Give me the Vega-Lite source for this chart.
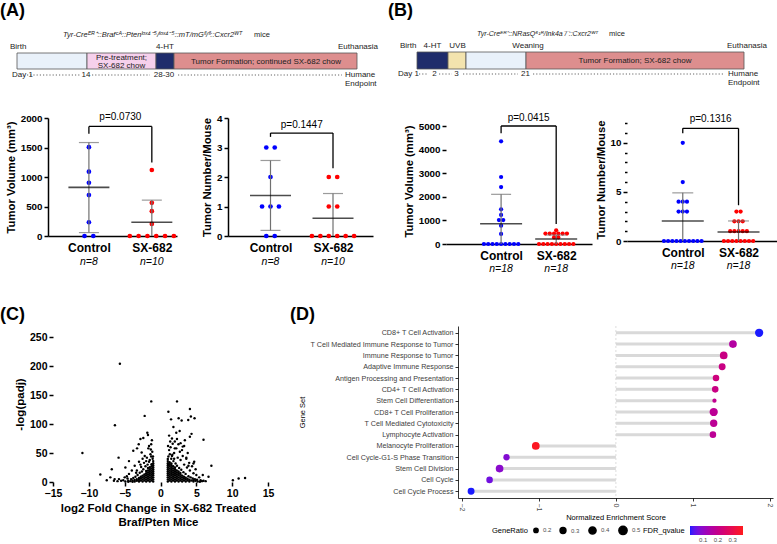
{
"$schema":"https://vega.github.io/schema/vega-lite/v6.json",
"padding":0,
"autosize":{"type":"pad"},
"background":"white",
"config":{
 "font":"Liberation Sans",
 "view":{"stroke":null},
 "scale":{"nice":false},
 "axis":{"grid":false,"domainColor":"#000","tickColor":"#000","labelColor":"#000","titleColor":"#000","labelFontWeight":"bold","titleFontWeight":"bold","domainWidth":1.5,"tickWidth":1.5,"labelFlush":false,"labelOverlap":false},
 "axisX":{"ticks":false,"labelFontSize":12,"labelPadding":6},
 "axisY":{"tickSize":4,"labelFontSize":9.8,"titleFontSize":11.3,"titlePadding":4},
 "title":{"anchor":"start","frame":"group","fontSize":18,"fontWeight":"bold","color":"#000"}
},
"bounds":"full",
"spacing":0,
"resolve":{"scale":{"color":"independent","size":"independent"}},
"vconcat":[
{"bounds":"flush","columns":4,"spacing":0,"align":"each",
 "resolve":{"scale":{"color":"independent","size":"independent"}},
 "concat":[
 {"width":180,"height":118,
  "encoding":{"x":{"field":"x","type":"quantitative","scale":{"domain":[48,228],"nice":false},"axis":null},"y":{"field":"y","type":"quantitative","scale":{"domain":[0,118],"reverse":true,"nice":false},"axis":null}},
  "layer":[
   {"data":{"values":[{"phase":"Birth to day 14","x":17,"x2":87,"y":53,"y2":69},{"phase":"Pre-treatment","x":87,"x2":156,"y":53,"y2":69},{"phase":"4-HT","x":156,"x2":174,"y":53,"y2":69},{"phase":"Tumor formation","x":174,"x2":357,"y":53,"y2":69}]},
    "mark":{"type":"rect","stroke":"#555","strokeWidth":0.8},
    "encoding":{"x2":{"field":"x2"},"y2":{"field":"y2"},"color":{"field":"phase","type":"nominal","scale":{"domain":["Birth to day 14","Pre-treatment","4-HT","Tumor formation"],"range":["#e9f1fa","#f6d0ec","#1f2c6b","#dd8e8e"]},"legend":null}}},
   {"data":{"values":[{"x":27,"x2":80,"y":75},{"x":92,"x2":150,"y":75},{"x":178,"x2":342,"y":75}]},
    "mark":{"type":"rule","strokeDash":[1.2,2],"color":"#555","strokeWidth":0.9},
    "encoding":{"x2":{"field":"x2"}}},
   {"data":{"values":[{"t":"Birth","x":10,"y":47},{"t":"Day 1","x":12,"y":75},{"t":"Humane","x":345,"y":75},{"t":"Endpoint","x":345,"y":84}]},
    "mark":{"type":"text","align":"left","fontSize":8,"color":"#222"},"encoding":{"text":{"field":"t"}}},
   {"data":{"values":[{"t":"4-HT","x":165,"y":47},{"t":"14","x":86,"y":75},{"t":"28-30","x":164,"y":75},{"t":"Pre-treatment;","x":121.5,"y":57.5},{"t":"SX-682 chow","x":121.5,"y":65.5},{"t":"Tumor Formation; continued SX-682 chow","x":266,"y":61.5}]},
    "mark":{"type":"text","align":"center","fontSize":8,"color":"#222"},"encoding":{"text":{"field":"t"}}},
   {"data":{"values":[{"t":"Euthanasia","x":378,"y":47}]},
    "mark":{"type":"text","align":"right","fontSize":8,"color":"#222"},"encoding":{"text":{"field":"t"}}},
   {"data":{"values":[{"t":"Tyr-Creᴱᴿ⁺::Brafᶜᴬ::Ptenˡᵒˣ⁴⁻⁵/ˡᵒˣ⁴⁻⁵::mT/mGᶠˡ/ᶠˡ::Cxcr2ᵂᵀ","x":63,"y":35}]},
    "mark":{"type":"text","align":"left","fontSize":7.5,"fontStyle":"italic","color":"#222"},"encoding":{"text":{"field":"t"}}},
   {"data":{"values":[{"t":"mice","x":254,"y":35}]},
    "mark":{"type":"text","align":"left","fontSize":7.5,"color":"#222"},"encoding":{"text":{"field":"t"}}},
   {"data":{"values":[{"t":"(A)","x":0,"y":10.5}]},
    "mark":{"type":"text","align":"left","fontSize":18,"fontWeight":"bold","color":"#000"},"encoding":{"text":{"field":"t"}}}
  ]},
 {"width":218,"height":1,"data":{"values":[]},"mark":"point"},
 {"width":181,"height":118,
  "encoding":{"x":{"field":"x","type":"quantitative","scale":{"domain":[446,627],"nice":false},"axis":null},"y":{"field":"y","type":"quantitative","scale":{"domain":[0,118],"reverse":true,"nice":false},"axis":null}},
  "layer":[
   {"data":{"values":[{"phase":"4-HT","x":417,"x2":448,"y":52,"y2":69},{"phase":"UVB","x":448,"x2":466,"y":52,"y2":69},{"phase":"To weaning","x":466,"x2":526,"y":52,"y2":69},{"phase":"Tumor formation","x":526,"x2":744,"y":52,"y2":69}]},
    "mark":{"type":"rect","stroke":"#555","strokeWidth":0.8},
    "encoding":{"x2":{"field":"x2"},"y2":{"field":"y2"},"color":{"field":"phase","type":"nominal","scale":{"domain":["4-HT","UVB","To weaning","Tumor formation"],"range":["#1f2c6b","#f3e3ae","#e9f1fa","#dd8e8e"]},"legend":null}}},
   {"data":{"values":[{"x":419,"x2":428,"y":74},{"x":439,"x2":452,"y":74},{"x":463,"x2":518,"y":74},{"x":533,"x2":723,"y":74}]},
    "mark":{"type":"rule","strokeDash":[1.2,2],"color":"#555","strokeWidth":0.9},
    "encoding":{"x2":{"field":"x2"}}},
   {"data":{"values":[{"t":"Birth","x":400,"y":46},{"t":"Day 1","x":398,"y":74},{"t":"Humane","x":728,"y":74},{"t":"Endpoint","x":728,"y":83}]},
    "mark":{"type":"text","align":"left","fontSize":8,"color":"#222"},"encoding":{"text":{"field":"t"}}},
   {"data":{"values":[{"t":"4-HT","x":432.5,"y":46},{"t":"UVB","x":457.5,"y":46},{"t":"Weaning","x":528,"y":46},{"t":"2","x":434.5,"y":74},{"t":"3","x":456.5,"y":74},{"t":"21","x":525.5,"y":74},{"t":"Tumor Formation; SX-682 chow","x":635,"y":61}]},
    "mark":{"type":"text","align":"center","fontSize":8,"color":"#222"},"encoding":{"text":{"field":"t"}}},
   {"data":{"values":[{"t":"Euthanasia","x":767,"y":46}]},
    "mark":{"type":"text","align":"right","fontSize":8,"color":"#222"},"encoding":{"text":{"field":"t"}}},
   {"data":{"values":[{"t":"Tyr-Creᴱᴿ⁺::NRasQ⁶¹ᴿ/Ink4a⁻/⁻::Cxcr2ᵂᵀ","x":477,"y":34}]},
    "mark":{"type":"text","align":"left","fontSize":7,"fontStyle":"italic","color":"#222"},"encoding":{"text":{"field":"t"}}},
   {"data":{"values":[{"t":"mice","x":609,"y":34}]},
    "mark":{"type":"text","align":"left","fontSize":7.5,"color":"#222"},"encoding":{"text":{"field":"t"}}},
   {"data":{"values":[{"t":"(B)","x":388,"y":10.5}]},
    "mark":{"type":"text","align":"left","fontSize":18,"fontWeight":"bold","color":"#000"},"encoding":{"text":{"field":"t"}}}
  ]},
 {"width":1,"height":1,"data":{"values":[]},"mark":"point"},

 {"width":129,"height":118,
  "layer":[
   {"data":{"values":[{"group":"Control","v":1506},{"group":"Control","v":1090},{"group":"Control","v":903},{"group":"Control","v":693},{"group":"Control","v":233},{"group":"Control","v":0},{"group":"Control","v":0},{"group":"SX-682","v":1119},{"group":"SX-682","v":562},{"group":"SX-682","v":421},{"group":"SX-682","v":204},{"group":"SX-682","v":0},{"group":"SX-682","v":0},{"group":"SX-682","v":0},{"group":"SX-682","v":0},{"group":"SX-682","v":0},{"group":"SX-682","v":0}]},
    "transform":[{"window":[{"op":"row_number","as":"k"}],"groupby":["group","v"]},{"joinaggregate":[{"op":"count","as":"n"}],"groupby":["group","v"]},{"calculate":"(datum.group==='Control'?1:2)+(datum.k-(datum.n+1)/2)*0.14","as":"gx"}],
    "mark":{"type":"circle","size":22,"opacity":1},
    "encoding":{"x":{"field":"gx","type":"quantitative","scale":{"domain":[0.35,2.4],"nice":false},"axis":{"values":[1,2],"tickCount":30,"labelExpr":"datum.value==1?'Control':'SX-682'"},"title":null},
     "y":{"field":"v","type":"quantitative","scale":{"domain":[0,2000],"nice":false},"axis":{"values":[0,500,1000,1500,2000],"tickCount":30,"format":"d","labelOverlap":false},"title":"Tumor Volume (mm³)"},
     "color":{"field":"group","type":"nominal","scale":{"domain":["Control","SX-682"],"range":["#0000ff","#ff0000"]},"legend":null}}},
   {"data":{"values":[{"group":"Control","mean":824,"lo":58,"hi":1584},{"group":"SX-682","mean":233,"lo":0,"hi":608}]},
    "transform":[{"calculate":"datum.group==='Control'?1:2","as":"gx"}],
    "layer":[
     {"mark":{"type":"rule","color":"#707070","strokeWidth":1.2},"encoding":{"x":{"field":"gx","type":"quantitative","title":null},"y":{"field":"lo","type":"quantitative","title":"Tumor Volume (mm³)"},"y2":{"field":"hi"}}},
     {"mark":{"type":"tick","orient":"horizontal","size":20,"thickness":1.2,"color":"#707070"},"encoding":{"x":{"field":"gx","type":"quantitative","title":null},"y":{"field":"hi","type":"quantitative","title":"Tumor Volume (mm³)"}}},
     {"transform":[{"filter":"datum.lo>0"}],"mark":{"type":"tick","orient":"horizontal","size":20,"thickness":1.2,"color":"#707070"},"encoding":{"x":{"field":"gx","type":"quantitative","title":null},"y":{"field":"lo","type":"quantitative","title":"Tumor Volume (mm³)"}}},
     {"mark":{"type":"tick","orient":"horizontal","size":41,"thickness":1.6,"color":"#000"},"encoding":{"x":{"field":"gx","type":"quantitative","title":null},"y":{"field":"mean","type":"quantitative","title":"Tumor Volume (mm³)"}}}
    ]},
   {"data":{"values":[{"gx":1,"gx2":2,"v":1857,"v2":1857},{"gx":1,"gx2":1,"v":1857,"v2":1733},{"gx":2,"gx2":2,"v":1857,"v2":1244}]},
    "mark":{"type":"rule","color":"#000","strokeWidth":1.3},
    "encoding":{"x":{"field":"gx","type":"quantitative","title":null},"x2":{"field":"gx2"},"y":{"field":"v","type":"quantitative","title":"Tumor Volume (mm³)"},"y2":{"field":"v2"}}},
   {"data":{"values":[{"gx":1.5,"v":2017,"label":"p=0.0730"}]},
    "mark":{"type":"text","fontSize":10},
    "encoding":{"x":{"field":"gx","type":"quantitative","title":null},"y":{"field":"v","type":"quantitative","title":"Tumor Volume (mm³)"},"text":{"field":"label"}}},
   {"data":{"values":[{"gx":1,"label":"n=8"},{"gx":2,"label":"n=10"}]},
    "mark":{"type":"text","fontSize":10.5,"fontStyle":"italic","dy":26},
    "encoding":{"x":{"field":"gx","type":"quantitative","title":null},"y":{"datum":0,"type":"quantitative"},"text":{"field":"label"}}}
  ]},
 {"width":145,"height":118,
  "layer":[
   {"data":{"values":[{"group":"Control","v":3},{"group":"Control","v":3},{"group":"Control","v":2},{"group":"Control","v":1},{"group":"Control","v":1},{"group":"Control","v":1},{"group":"Control","v":0},{"group":"Control","v":0},{"group":"SX-682","v":2},{"group":"SX-682","v":2},{"group":"SX-682","v":1},{"group":"SX-682","v":1},{"group":"SX-682","v":0},{"group":"SX-682","v":0},{"group":"SX-682","v":0},{"group":"SX-682","v":0},{"group":"SX-682","v":0},{"group":"SX-682","v":0}]},
    "transform":[{"window":[{"op":"row_number","as":"k"}],"groupby":["group","v"]},{"joinaggregate":[{"op":"count","as":"n"}],"groupby":["group","v"]},{"calculate":"(datum.group==='Control'?1:2)+(datum.k-(datum.n+1)/2)*0.135","as":"gx"}],
    "mark":{"type":"circle","size":22,"opacity":1},
    "encoding":{"x":{"field":"gx","type":"quantitative","scale":{"domain":[0.32,2.64],"nice":false},"axis":{"values":[1,2],"tickCount":30,"labelExpr":"datum.value==1?'Control':'SX-682'"},"title":null},
     "y":{"field":"v","type":"quantitative","scale":{"domain":[0,4],"nice":false},"axis":{"values":[0,1,2,3,4],"tickCount":30,"format":"d","labelOverlap":false},"title":"Tumor Number/Mouse"},
     "color":{"field":"group","type":"nominal","scale":{"domain":["Control","SX-682"],"range":["#0000ff","#ff0000"]},"legend":null}}},
   {"data":{"values":[{"group":"Control","mean":1.375,"lo":0.19,"hi":2.56},{"group":"SX-682","mean":0.6,"lo":0,"hi":1.44}]},
    "transform":[{"calculate":"datum.group==='Control'?1:2","as":"gx"}],
    "layer":[
     {"mark":{"type":"rule","color":"#707070","strokeWidth":1.2},"encoding":{"x":{"field":"gx","type":"quantitative","title":null},"y":{"field":"lo","type":"quantitative","title":"Tumor Number/Mouse"},"y2":{"field":"hi"}}},
     {"mark":{"type":"tick","orient":"horizontal","size":20,"thickness":1.2,"color":"#707070"},"encoding":{"x":{"field":"gx","type":"quantitative","title":null},"y":{"field":"hi","type":"quantitative","title":"Tumor Number/Mouse"}}},
     {"transform":[{"filter":"datum.lo>0"}],"mark":{"type":"tick","orient":"horizontal","size":20,"thickness":1.2,"color":"#707070"},"encoding":{"x":{"field":"gx","type":"quantitative","title":null},"y":{"field":"lo","type":"quantitative","title":"Tumor Number/Mouse"}}},
     {"mark":{"type":"tick","orient":"horizontal","size":41,"thickness":1.6,"color":"#000"},"encoding":{"x":{"field":"gx","type":"quantitative","title":null},"y":{"field":"mean","type":"quantitative","title":"Tumor Number/Mouse"}}}
    ]},
   {"data":{"values":[{"gx":1,"gx2":2,"v":3.49,"v2":3.49},{"gx":1,"gx2":1,"v":3.49,"v2":3.36},{"gx":2,"gx2":2,"v":3.49,"v2":2.3}]},
    "mark":{"type":"rule","color":"#000","strokeWidth":1.3},
    "encoding":{"x":{"field":"gx","type":"quantitative","title":null},"x2":{"field":"gx2"},"y":{"field":"v","type":"quantitative","title":"Tumor Number/Mouse"},"y2":{"field":"v2"}}},
   {"data":{"values":[{"gx":1.5,"v":3.77,"label":"p=0.1447"}]},
    "mark":{"type":"text","fontSize":10},
    "encoding":{"x":{"field":"gx","type":"quantitative","title":null},"y":{"field":"v","type":"quantitative","title":"Tumor Number/Mouse"},"text":{"field":"label"}}},
   {"data":{"values":[{"gx":1,"label":"n=8"},{"gx":2,"label":"n=10"}]},
    "mark":{"type":"text","fontSize":10.5,"fontStyle":"italic","dy":26},
    "encoding":{"x":{"field":"gx","type":"quantitative","title":null},"y":{"datum":0,"type":"quantitative"},"text":{"field":"label"}}}
  ]},
 {"width":146,"height":126,
  "layer":[
   {"mark":{"type":"rule","color":"#000","strokeWidth":1.5},"encoding":{"x":{"datum":0.35,"type":"quantitative"},"y":{"datum":0,"type":"quantitative"},"y2":{"datum":5000}}},
   {"data":{"values":[{"group":"Control","v":4352},{"group":"Control","v":2839},{"group":"Control","v":2415},{"group":"Control","v":1469},{"group":"Control","v":1229},{"group":"Control","v":1015},{"group":"Control","v":1015},{"group":"Control","v":777},{"group":"Control","v":424},{"group":"Control","v":0},{"group":"Control","v":0},{"group":"Control","v":0},{"group":"Control","v":0},{"group":"Control","v":0},{"group":"Control","v":0},{"group":"Control","v":0},{"group":"Control","v":0},{"group":"Control","v":0},{"group":"SX-682","v":580},{"group":"SX-682","v":440},{"group":"SX-682","v":440},{"group":"SX-682","v":440},{"group":"SX-682","v":440},{"group":"SX-682","v":440},{"group":"SX-682","v":440},{"group":"SX-682","v":280},{"group":"SX-682","v":280},{"group":"SX-682","v":0},{"group":"SX-682","v":0},{"group":"SX-682","v":0},{"group":"SX-682","v":0},{"group":"SX-682","v":0},{"group":"SX-682","v":0},{"group":"SX-682","v":0},{"group":"SX-682","v":0},{"group":"SX-682","v":0}]},
    "transform":[{"window":[{"op":"row_number","as":"k"}],"groupby":["group","v"]},{"joinaggregate":[{"op":"count","as":"n"}],"groupby":["group","v"]},{"calculate":"(datum.group==='Control'?1:2)+(datum.k-(datum.n+1)/2)*0.078","as":"gx"}],
    "mark":{"type":"circle","size":18,"opacity":1},
    "encoding":{"x":{"field":"gx","type":"quantitative","scale":{"domain":[0.35,2.65],"nice":false},"axis":{"values":[1,2],"tickCount":30,"labelExpr":"datum.value==1?'Control':'SX-682'"},"title":null},
     "y":{"field":"v","type":"quantitative","scale":{"domain":[0,5339],"nice":false},"axis":{"values":[0,1000,2000,3000,4000,5000],"tickCount":30,"format":"d","domain":false,"labelOverlap":false},"title":"Tumor Volume (mm³)"},
     "color":{"field":"group","type":"nominal","scale":{"domain":["Control","SX-682"],"range":["#0000ff","#ff0000"]},"legend":null}}},
   {"data":{"values":[{"group":"Control","mean":861,"lo":0,"hi":2105},{"group":"SX-682","mean":212,"lo":0,"hi":381}]},
    "transform":[{"calculate":"datum.group==='Control'?1:2","as":"gx"}],
    "layer":[
     {"mark":{"type":"rule","color":"#707070","strokeWidth":1.2},"encoding":{"x":{"field":"gx","type":"quantitative","title":null},"y":{"field":"lo","type":"quantitative","title":"Tumor Volume (mm³)"},"y2":{"field":"hi"}}},
     {"mark":{"type":"tick","orient":"horizontal","size":20,"thickness":1.2,"color":"#707070"},"encoding":{"x":{"field":"gx","type":"quantitative","title":null},"y":{"field":"hi","type":"quantitative","title":"Tumor Volume (mm³)"}}},
     {"mark":{"type":"tick","orient":"horizontal","size":42,"thickness":1.6,"color":"#000"},"encoding":{"x":{"field":"gx","type":"quantitative","title":null},"y":{"field":"mean","type":"quantitative","title":"Tumor Volume (mm³)"}}}
    ]},
   {"data":{"values":[{"gx":1,"gx2":2,"v":5000,"v2":5000},{"gx":1,"gx2":1,"v":5000,"v2":4690},{"gx":2,"gx2":2,"v":5000,"v2":850}]},
    "mark":{"type":"rule","color":"#000","strokeWidth":1.3},
    "encoding":{"x":{"field":"gx","type":"quantitative","title":null},"x2":{"field":"gx2"},"y":{"field":"v","type":"quantitative","title":"Tumor Volume (mm³)"},"y2":{"field":"v2"}}},
   {"data":{"values":[{"gx":1.5,"v":5339,"label":"p=0.0415"}]},
    "mark":{"type":"text","fontSize":10},
    "encoding":{"x":{"field":"gx","type":"quantitative","title":null},"y":{"field":"v","type":"quantitative","title":"Tumor Volume (mm³)"},"text":{"field":"label"}}},
   {"data":{"values":[{"gx":1,"label":"n=18"},{"gx":2,"label":"n=18"}]},
    "mark":{"type":"text","fontSize":10.5,"fontStyle":"italic","dy":25},
    "encoding":{"x":{"field":"gx","type":"quantitative","title":null},"y":{"datum":0,"type":"quantitative"},"text":{"field":"label"}}}
  ]},
 {"width":150,"height":123,
  "layer":[
   {"mark":{"type":"rule","color":"#000","strokeWidth":1.5},"encoding":{"x":{"datum":0.32,"type":"quantitative"},"y":{"datum":0,"type":"quantitative"},"y2":{"datum":12.04}}},
   {"data":{"values":[{"group":"Control","v":10},{"group":"Control","v":6},{"group":"Control","v":4},{"group":"Control","v":4},{"group":"Control","v":4},{"group":"Control","v":3},{"group":"Control","v":3},{"group":"Control","v":3},{"group":"Control","v":0},{"group":"Control","v":0},{"group":"Control","v":0},{"group":"Control","v":0},{"group":"Control","v":0},{"group":"Control","v":0},{"group":"Control","v":0},{"group":"Control","v":0},{"group":"Control","v":0},{"group":"Control","v":0},{"group":"SX-682","v":3},{"group":"SX-682","v":3},{"group":"SX-682","v":2},{"group":"SX-682","v":2},{"group":"SX-682","v":2},{"group":"SX-682","v":1},{"group":"SX-682","v":1},{"group":"SX-682","v":1},{"group":"SX-682","v":1},{"group":"SX-682","v":1},{"group":"SX-682","v":0},{"group":"SX-682","v":0},{"group":"SX-682","v":0},{"group":"SX-682","v":0},{"group":"SX-682","v":0},{"group":"SX-682","v":0},{"group":"SX-682","v":0},{"group":"SX-682","v":0}]},
    "transform":[{"window":[{"op":"row_number","as":"k"}],"groupby":["group","v"]},{"joinaggregate":[{"op":"count","as":"n"}],"groupby":["group","v"]},{"calculate":"(datum.group==='Control'?1:2)+(datum.k-(datum.n+1)/2)*0.075","as":"gx"}],
    "mark":{"type":"circle","size":18,"opacity":1},
    "encoding":{"x":{"field":"gx","type":"quantitative","scale":{"domain":[0.32,2.69],"nice":false},"axis":{"values":[1,2],"tickCount":30,"labelExpr":"datum.value==1?'Control':'SX-682'"},"title":null},
     "y":{"field":"v","type":"quantitative","scale":{"domain":[0,12.52],"nice":false},"axis":{"values":[0,1,2,3,4,5,6,7,8,9,10,11,12],"tickCount":30,"format":"d","domain":false,"labelOverlap":false,"labelExpr":"datum.value%5===0?datum.label:''","tickSize":{"condition":{"test":"datum.value%5===0","value":4},"value":2.5}},"title":"Tumor Number/Mouse"},
     "color":{"field":"group","type":"nominal","scale":{"domain":["Control","SX-682"],"range":["#0000ff","#ff0000"]},"legend":null}}},
   {"data":{"values":[{"group":"Control","mean":2.04,"lo":0,"hi":4.9},{"group":"SX-682","mean":0.92,"lo":0,"hi":2.04}]},
    "transform":[{"calculate":"datum.group==='Control'?1:2","as":"gx"}],
    "layer":[
     {"mark":{"type":"rule","color":"#707070","strokeWidth":1.2},"encoding":{"x":{"field":"gx","type":"quantitative","title":null},"y":{"field":"lo","type":"quantitative","title":"Tumor Number/Mouse"},"y2":{"field":"hi"}}},
     {"mark":{"type":"tick","orient":"horizontal","size":21,"thickness":1.2,"color":"#707070"},"encoding":{"x":{"field":"gx","type":"quantitative","title":null},"y":{"field":"hi","type":"quantitative","title":"Tumor Number/Mouse"}}},
     {"mark":{"type":"tick","orient":"horizontal","size":42,"thickness":1.6,"color":"#000"},"encoding":{"x":{"field":"gx","type":"quantitative","title":null},"y":{"field":"mean","type":"quantitative","title":"Tumor Number/Mouse"}}}
    ]},
   {"data":{"values":[{"gx":1,"gx2":2,"v":11.47,"v2":11.47},{"gx":1,"gx2":1,"v":11.47,"v2":10.96},{"gx":2,"gx2":2,"v":11.47,"v2":3.64}]},
    "mark":{"type":"rule","color":"#000","strokeWidth":1.3},
    "encoding":{"x":{"field":"gx","type":"quantitative","title":null},"x2":{"field":"gx2"},"y":{"field":"v","type":"quantitative","title":"Tumor Number/Mouse"},"y2":{"field":"v2"}}},
   {"data":{"values":[{"gx":1.5,"v":12.4,"label":"p=0.1316"}]},
    "mark":{"type":"text","fontSize":10},
    "encoding":{"x":{"field":"gx","type":"quantitative","title":null},"y":{"field":"v","type":"quantitative","title":"Tumor Number/Mouse"},"text":{"field":"label"}}},
   {"data":{"values":[{"gx":1,"label":"n=18"},{"gx":2,"label":"n=18"}]},
    "mark":{"type":"text","fontSize":10.5,"fontStyle":"italic","dy":25},
    "encoding":{"x":{"field":"gx","type":"quantitative","title":null},"y":{"datum":0,"type":"quantitative"},"text":{"field":"label"}}}
  ]},
 {"width":1,"height":61,"data":{"values":[]},"mark":"point"},
 {"width":1,"height":1,"data":{"values":[]},"mark":"point"},
 {"width":1,"height":1,"data":{"values":[]},"mark":"point"},
 {"width":1,"height":1,"data":{"values":[]},"mark":"point"}
 ]},
{"bounds":"flush","spacing":190,
 "resolve":{"scale":{"color":"independent","size":"independent"}},
 "hconcat":[
 {"width":220,"height":156,
  "title":{"text":"(C)","dx":-48,"offset":2},
  "layer":[
   {"mark":{"type":"rule","color":"#000","strokeWidth":1.5},"encoding":{"x":{"datum":-15,"type":"quantitative"},"x2":{"datum":15},"y":{"datum":0,"type":"quantitative"}}},
   {"mark":{"type":"rule","color":"#000","strokeWidth":1.5},"encoding":{"x":{"datum":-15,"type":"quantitative"},"y":{"datum":0,"type":"quantitative"},"y2":{"datum":250}}},
   {"data":{"values":[
{"x":-1.02,"y":1},{"x":-1.02,"y":4.5},{"x":-1.02,"y":8},{"x":-1.02,"y":11.5},{"x":-1.02,"y":15},{"x":-1.02,"y":18.5},{"x":-1.02,"y":22},{"x":-1.02,"y":25.5},{"x":-1.02,"y":29},{"x":-1.02,"y":32.5},{"x":-1.02,"y":36},
{"x":-1.25,"y":2.5},{"x":-1.25,"y":6},{"x":-1.25,"y":9.5},{"x":-1.25,"y":13},{"x":-1.25,"y":16.5},{"x":-1.25,"y":20},{"x":-1.25,"y":23.5},{"x":-1.25,"y":27},{"x":-1.25,"y":30.5},
{"x":-1.5,"y":1},{"x":-1.5,"y":4.5},{"x":-1.5,"y":8},{"x":-1.5,"y":11.5},{"x":-1.5,"y":15},{"x":-1.5,"y":18.5},{"x":-1.5,"y":22},{"x":-1.5,"y":25.5},
{"x":-1.75,"y":2.5},{"x":-1.75,"y":6},{"x":-1.75,"y":9.5},{"x":-1.75,"y":13},{"x":-1.75,"y":16.5},{"x":-1.75,"y":20},{"x":-1.75,"y":24},
{"x":-2.0,"y":1},{"x":-2.0,"y":4.5},{"x":-2.0,"y":8},{"x":-2.0,"y":11.5},{"x":-2.0,"y":15},{"x":-2.0,"y":19},
{"x":-2.25,"y":2.5},{"x":-2.25,"y":6},{"x":-2.25,"y":9.5},{"x":-2.25,"y":13},
{"x":-2.5,"y":1},{"x":-2.5,"y":4.5},{"x":-2.5,"y":8},{"x":-2.5,"y":11},
{"x":-2.75,"y":2.5},{"x":-2.75,"y":6},{"x":-2.75,"y":9},
{"x":-3.0,"y":1},{"x":-3.0,"y":4},{"x":-3.0,"y":7},
{"x":-3.3,"y":2},{"x":-3.3,"y":5},{"x":-3.6,"y":1},{"x":-3.6,"y":3.5},{"x":-3.9,"y":0.5},{"x":-3.9,"y":2.5},{"x":-4.2,"y":1.5},{"x":-4.5,"y":0.5},{"x":-4.5,"y":2},{"x":-4.9,"y":1},
{"x":-1.1,"y":40},{"x":-1.3,"y":44},{"x":-1.15,"y":52},{"x":-1.5,"y":38},{"x":-1.4,"y":48},{"x":-1.8,"y":30},{"x":-1.6,"y":35},{"x":-2.1,"y":27},{"x":-1.9,"y":42},{"x":-2.4,"y":22},{"x":-2.6,"y":18},{"x":-2.3,"y":33},{"x":-3.2,"y":12},{"x":-2.9,"y":16},{"x":-3.5,"y":9},{"x":-3.8,"y":7},{"x":-4.1,"y":5},{"x":-3.3,"y":20},{"x":-2.7,"y":26},{"x":-4.6,"y":6},{"x":-5.2,"y":3},{"x":-5.5,"y":2},{"x":-6.0,"y":1.5},{"x":-6.5,"y":2},{"x":-5.8,"y":5},{"x":-3.6,"y":28},{"x":-2.2,"y":45},{"x":-1.7,"y":58},{"x":-1.3,"y":65},{"x":-1.6,"y":62},{"x":-2.5,"y":40},{"x":-3.0,"y":35},{"x":-4.4,"y":14},{"x":-4.0,"y":20},{"x":-1.2,"y":72},{"x":-1.05,"y":44},{"x":-1.35,"y":56},{"x":-2.0,"y":36},{"x":-2.8,"y":30},{"x":-3.4,"y":16},{"x":-5.0,"y":8},{"x":-4.7,"y":10},
{"x":-5.67,"y":204},{"x":-6.36,"y":98},{"x":-10.9,"y":50},{"x":-8.4,"y":13},{"x":-1.29,"y":139},{"x":-2.21,"y":114},{"x":-1.84,"y":85},{"x":-1.75,"y":81},{"x":-2.4,"y":76},{"x":-3.04,"y":65},{"x":-3.27,"y":58},{"x":-2.63,"y":51},{"x":-5.85,"y":42},{"x":-6.8,"y":22},{"x":-4.9,"y":25},{"x":-4.4,"y":36},{"x":-3.8,"y":54},{"x":-2.8,"y":74},{"x":-7.0,"y":8},{"x":-6.4,"y":5},{"x":-7.5,"y":3},
{"x":1.02,"y":1},{"x":1.02,"y":4.5},{"x":1.02,"y":8},{"x":1.02,"y":11.5},{"x":1.02,"y":15},{"x":1.02,"y":18.5},{"x":1.02,"y":22},{"x":1.02,"y":25.5},{"x":1.02,"y":29},{"x":1.02,"y":32.5},{"x":1.02,"y":36},{"x":1.02,"y":39.5},
{"x":1.27,"y":2.5},{"x":1.27,"y":6},{"x":1.27,"y":9.5},{"x":1.27,"y":13},{"x":1.27,"y":16.5},{"x":1.27,"y":20},{"x":1.27,"y":23.5},{"x":1.27,"y":27},{"x":1.27,"y":30.5},{"x":1.27,"y":34},
{"x":1.52,"y":1},{"x":1.52,"y":4.5},{"x":1.52,"y":8},{"x":1.52,"y":11.5},{"x":1.52,"y":15},{"x":1.52,"y":18.5},{"x":1.52,"y":22},{"x":1.52,"y":25.5},{"x":1.52,"y":29},{"x":1.52,"y":32},
{"x":1.77,"y":2.5},{"x":1.77,"y":6},{"x":1.77,"y":9.5},{"x":1.77,"y":13},{"x":1.77,"y":16.5},{"x":1.77,"y":20},{"x":1.77,"y":23.5},{"x":1.77,"y":27},
{"x":2.02,"y":1},{"x":2.02,"y":4.5},{"x":2.02,"y":8},{"x":2.02,"y":11.5},{"x":2.02,"y":15},{"x":2.02,"y":18.5},{"x":2.02,"y":22},{"x":2.02,"y":25},
{"x":2.27,"y":2.5},{"x":2.27,"y":6},{"x":2.27,"y":9.5},{"x":2.27,"y":13},{"x":2.27,"y":16.5},{"x":2.27,"y":20},
{"x":2.52,"y":1},{"x":2.52,"y":4.5},{"x":2.52,"y":8},{"x":2.52,"y":11.5},{"x":2.52,"y":15},{"x":2.52,"y":18},
{"x":2.77,"y":2.5},{"x":2.77,"y":6},{"x":2.77,"y":9.5},{"x":2.77,"y":13},{"x":2.77,"y":15.5},
{"x":3.02,"y":1},{"x":3.02,"y":4.5},{"x":3.02,"y":8},{"x":3.02,"y":11},
{"x":3.27,"y":2.5},{"x":3.27,"y":6},{"x":3.27,"y":9},{"x":3.52,"y":1},{"x":3.52,"y":4.5},{"x":3.52,"y":7.5},{"x":3.77,"y":2.5},{"x":3.77,"y":5.5},{"x":4.02,"y":1},{"x":4.02,"y":4},{"x":4.3,"y":2.5},{"x":4.6,"y":1},{"x":4.6,"y":3},{"x":4.9,"y":2},{"x":5.2,"y":1},{"x":5.5,"y":0.5},{"x":5.8,"y":1.5},
{"x":1.1,"y":44},{"x":1.3,"y":48},{"x":1.2,"y":55},{"x":1.5,"y":40},{"x":1.8,"y":36},{"x":1.6,"y":45},{"x":2.1,"y":32},{"x":2.3,"y":28},{"x":2.6,"y":24},{"x":2.9,"y":21},{"x":3.2,"y":17},{"x":3.5,"y":14},{"x":3.9,"y":10},{"x":4.2,"y":8},{"x":4.5,"y":6},{"x":4.8,"y":5},{"x":5.1,"y":4},{"x":5.6,"y":3},{"x":6.0,"y":2},{"x":6.3,"y":1.5},{"x":1.4,"y":60},{"x":1.9,"y":50},{"x":2.4,"y":42},{"x":2.8,"y":38},{"x":3.3,"y":30},{"x":3.7,"y":25},{"x":4.1,"y":20},{"x":4.6,"y":15},{"x":5.0,"y":12},{"x":5.4,"y":8},{"x":1.7,"y":66},{"x":2.2,"y":58},{"x":2.7,"y":52},{"x":3.1,"y":45},{"x":3.6,"y":40},{"x":4.0,"y":33},{"x":4.4,"y":27},{"x":1.2,"y":80},{"x":1.6,"y":75},{"x":2.0,"y":70},{"x":2.5,"y":65},{"x":3.8,"y":50},{"x":4.7,"y":35},{"x":3.0,"y":55},{"x":1.05,"y":62},{"x":1.35,"y":70},{"x":2.8,"y":67},{"x":3.4,"y":72},{"x":2.2,"y":85},{"x":1.8,"y":95},{"x":1.1,"y":30},{"x":1.9,"y":40},
{"x":2.3,"y":139},{"x":1.1,"y":121},{"x":4.1,"y":126},{"x":4.24,"y":113},{"x":4.75,"y":110},{"x":1.47,"y":108},{"x":2.53,"y":110},{"x":2.95,"y":106},{"x":3.87,"y":107},{"x":2.67,"y":88},{"x":4.33,"y":83},{"x":4.1,"y":78},{"x":2.3,"y":74},{"x":6.0,"y":73},{"x":7.1,"y":28},{"x":6.7,"y":9},{"x":5.9,"y":12},{"x":10.1,"y":3},{"x":10.9,"y":6},{"x":11.8,"y":7},{"x":3.3,"y":62},{"x":2.0,"y":58},{"x":3.1,"y":61},{"x":3.6,"y":42},{"x":1.66,"y":47},{"x":3.9,"y":28},{"x":4.6,"y":32},{"x":4.9,"y":22}
   ]},
    "mark":{"type":"circle","size":6,"color":"#000","opacity":1},
    "encoding":{
     "x":{"field":"x","type":"quantitative","scale":{"domain":[-15.7,15],"nice":false},"axis":{"values":[-15,-10,-5,0,5,10,15],"tickCount":30,"format":"d","domain":false,"ticks":true,"tickSize":4,"labelOverlap":false,"labelFontSize":10.5,"labelPadding":2,"title":["log2 Fold Change in SX-682 Treated","Braf/Pten Mice"],"titleFontSize":11.5,"titlePadding":4}},
     "y":{"field":"y","type":"quantitative","scale":{"domain":[0,269],"nice":false},"axis":{"values":[0,50,100,150,200,250],"tickCount":30,"format":"d","domain":false,"labelOverlap":false,"offset":-5,"tickSize":4,"labelFontSize":10.5,"title":"-log(padj)","titleFontSize":11.5}}}}
  ]},
 {"width":315,"height":172,
  "title":{"text":"(D)","dx":-168,"offset":2},
  "layer":[
   {"data":{"values":[{"z":0}]},"mark":{"type":"rule","strokeDash":[2,2],"color":"#cfcfcf","strokeWidth":0.7},"encoding":{"x":{"field":"z","type":"quantitative"}}},
   {"data":{"values":[
{"set":"CD8+ T Cell Activation","nes":1.86,"ratio":0.5,"fdr":0.01},
{"set":"T Cell Mediated Immune Response to Tumor","nes":1.52,"ratio":0.45,"fdr":0.16},
{"set":"Immune Response to Tumor","nes":1.4,"ratio":0.45,"fdr":0.21},
{"set":"Adaptive Immune Response","nes":1.38,"ratio":0.38,"fdr":0.21},
{"set":"Antigen Processing and Presentation","nes":1.3,"ratio":0.35,"fdr":0.22},
{"set":"CD4+ T Cell Activation","nes":1.29,"ratio":0.35,"fdr":0.21},
{"set":"Stem Cell Differentiation","nes":1.28,"ratio":0.2,"fdr":0.19},
{"set":"CD8+ T Cell Proliferation","nes":1.27,"ratio":0.5,"fdr":0.18},
{"set":"T Cell Mediated Cytotoxicity","nes":1.27,"ratio":0.42,"fdr":0.18},
{"set":"Lymphocyte Activation","nes":1.26,"ratio":0.35,"fdr":0.18},
{"set":"Melanocyte Proliferation","nes":-1.04,"ratio":0.45,"fdr":0.36},
{"set":"Cell Cycle-G1-S Phase Transition","nes":-1.42,"ratio":0.33,"fdr":0.08},
{"set":"Stem Cell Division","nes":-1.51,"ratio":0.45,"fdr":0.09},
{"set":"Cell Cycle","nes":-1.64,"ratio":0.35,"fdr":0.06},
{"set":"Cell Cycle Process","nes":-1.88,"ratio":0.38,"fdr":0.01}
   ]},
    "layer":[
     {"mark":{"type":"rule","color":"#d9d9d9","strokeWidth":3},
      "encoding":{"x":{"field":"nes","type":"quantitative"},"x2":{"datum":0},"y":{"field":"set","type":"nominal","sort":null}}},
     {"mark":{"type":"circle","opacity":1},
      "encoding":{
       "x":{"field":"nes","type":"quantitative","scale":{"domain":[-2.05,2.04],"nice":false},"axis":{"values":[-2,-1,0,1,2],"tickCount":30,"format":"d","labelOverlap":false,"labelAngle":90,"ticks":true,"tickSize":3,"tickWidth":0.8,"domainWidth":0.8,"labelFontSize":7,"labelFontWeight":"normal","labelColor":"#4d4d4d","labelPadding":2,"title":"Normalized Enrichment Score","titleFontSize":7.5,"titleFontWeight":"normal","titlePadding":3}},
       "y":{"field":"set","type":"nominal","sort":null,"scale":{"type":"point","padding":0.6},"axis":{"tickSize":3,"tickWidth":0.8,"domainWidth":0.8,"labelOverlap":false,"labelFontSize":7.2,"labelFontWeight":"normal","labelColor":"#3d3d3d","title":"Gene Set","titleFontSize":7.5,"titleFontWeight":"normal","titlePadding":3}},
       "size":{"field":"ratio","type":"quantitative","scale":{"domain":[0.2,0.5],"range":[18,68]},"legend":{"title":"GeneRatio","orient":"none","legendX":34,"legendY":199,"direction":"horizontal","titleOrient":"left","values":[0.2,0.3,0.4,0.5],"format":".1f","symbolFillColor":"#000","symbolStrokeColor":"#000","symbolType":"circle","labelFontSize":6,"labelColor":"#4d4d4d","titleFontSize":7.5,"titleFontWeight":"normal","columnPadding":5}},
       "color":{"field":"fdr","type":"quantitative","scale":{"domain":[0.01,0.37],"range":["#1a1aff","#ff1a1a"],"interpolate":"lab"},"legend":{"title":"FDR_qvalue","orient":"none","legendX":185,"legendY":200,"direction":"horizontal","titleOrient":"left","gradientLength":53,"gradientThickness":9,"values":[0.1,0.2,0.3],"format":".1f","labelFontSize":6,"labelColor":"#4d4d4d","titleFontSize":7.5,"titleFontWeight":"normal"}}}}
    ]}
  ]}
 ]}
]
}
